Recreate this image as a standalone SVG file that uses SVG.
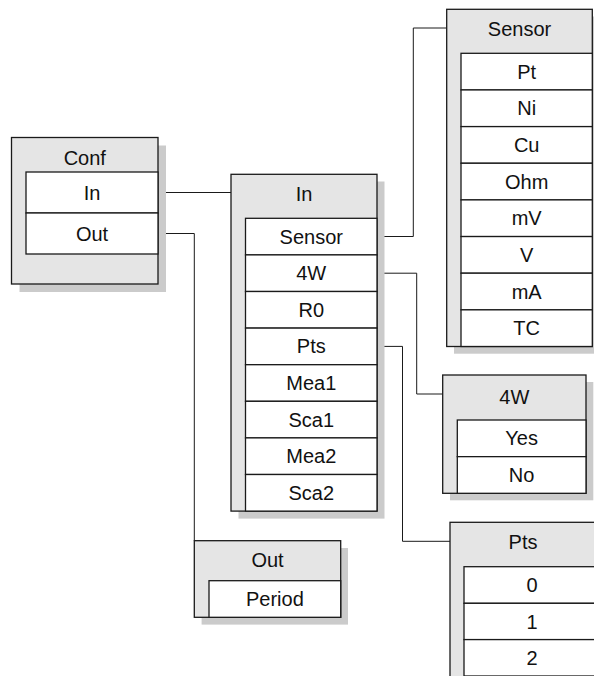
<svg xmlns="http://www.w3.org/2000/svg" width="594" height="676" viewBox="0 0 594 676">
<style>
  .sh { fill: #cbcbcb; stroke: none; }
  .box { fill: #e5e5e5; stroke: #1a1a1a; stroke-width: 1.3; }
  .row { fill: #ffffff; stroke: #1a1a1a; stroke-width: 1.3; }
  .t { font-family: "Liberation Sans", Arial, sans-serif; font-size: 20px; fill: #111111; text-anchor: middle; }
  .c { fill: none; stroke: #1a1a1a; stroke-width: 1; }
</style>
<rect width="594" height="676" fill="#ffffff"/>
<g id="connectors">
  <path class="c" d="M158,192.5 H231"/>
  <path class="c" d="M158,233.5 H194.3 V540.7"/>
  <path class="c" d="M377,236.5 H413.3 V28 H446.7"/>
  <path class="c" d="M377,273.2 H416.7 V394 H442.7"/>
  <path class="c" d="M377,346.4 H402.5 V541.3 H450"/>
</g>
<g id="conf">
  <rect class="sh" x="19.5" y="145.5" width="146.5" height="146.5"/>
  <rect class="box" x="11.5" y="137.5" width="146.5" height="146.5"/>
  <text class="t" x="84.75" y="164.5">Conf</text>
  <rect class="row" x="26" y="172" width="132" height="41"/>
  <text class="t" x="92" y="199.5">In</text>
  <rect class="row" x="26" y="213" width="132" height="41"/>
  <text class="t" x="92" y="240.5">Out</text>
</g>
<g id="in">
  <rect class="sh" x="238.5" y="181.5" width="146" height="337.1"/>
  <rect class="box" x="231" y="174.3" width="146" height="336.8"/>
  <text class="t" x="304" y="201">In</text>
  <rect class="row" x="245.5" y="218.3" width="131.5" height="36.6"/>
  <text class="t" x="311.25" y="243.6">Sensor</text>
  <rect class="row" x="245.5" y="254.9" width="131.5" height="36.6"/>
  <text class="t" x="311.25" y="280.2">4W</text>
  <rect class="row" x="245.5" y="291.5" width="131.5" height="36.6"/>
  <text class="t" x="311.25" y="316.8">R0</text>
  <rect class="row" x="245.5" y="328.1" width="131.5" height="36.6"/>
  <text class="t" x="311.25" y="353.4">Pts</text>
  <rect class="row" x="245.5" y="364.7" width="131.5" height="36.6"/>
  <text class="t" x="311.25" y="390">Mea1</text>
  <rect class="row" x="245.5" y="401.3" width="131.5" height="36.6"/>
  <text class="t" x="311.25" y="426.6">Sca1</text>
  <rect class="row" x="245.5" y="437.9" width="131.5" height="36.6"/>
  <text class="t" x="311.25" y="463.2">Mea2</text>
  <rect class="row" x="245.5" y="474.5" width="131.5" height="36.6"/>
  <text class="t" x="311.25" y="499.8">Sca2</text>
</g>
<g id="sensor">
  <rect class="sh" x="454" y="16.5" width="146" height="337.2"/>
  <rect class="box" x="446.7" y="9.3" width="145.6" height="337.2"/>
  <text class="t" x="519.5" y="36">Sensor</text>
  <rect class="row" x="461" y="53.3" width="131.3" height="36.65"/>
  <text class="t" x="526.7" y="78.6">Pt</text>
  <rect class="row" x="461" y="89.95" width="131.3" height="36.65"/>
  <text class="t" x="526.7" y="115.3">Ni</text>
  <rect class="row" x="461" y="126.6" width="131.3" height="36.65"/>
  <text class="t" x="526.7" y="151.9">Cu</text>
  <rect class="row" x="461" y="163.25" width="131.3" height="36.65"/>
  <text class="t" x="526.7" y="188.6">Ohm</text>
  <rect class="row" x="461" y="199.9" width="131.3" height="36.65"/>
  <text class="t" x="526.7" y="225.2">mV</text>
  <rect class="row" x="461" y="236.55" width="131.3" height="36.65"/>
  <text class="t" x="526.7" y="261.9">V</text>
  <rect class="row" x="461" y="273.2" width="131.3" height="36.65"/>
  <text class="t" x="526.7" y="298.5">mA</text>
  <rect class="row" x="461" y="309.85" width="131.3" height="36.65"/>
  <text class="t" x="526.7" y="335.2">TC</text>
</g>
<g id="fourw">
  <rect class="sh" x="450" y="382" width="143.3" height="118.3"/>
  <rect class="box" x="442.7" y="375" width="143.3" height="118.3"/>
  <text class="t" x="514.35" y="403.5">4W</text>
  <rect class="row" x="457.3" y="420" width="128.7" height="36.65"/>
  <text class="t" x="521.65" y="445.3">Yes</text>
  <rect class="row" x="457.3" y="456.65" width="128.7" height="36.65"/>
  <text class="t" x="521.65" y="482">No</text>
</g>
<g id="out">
  <rect class="sh" x="201.6" y="548" width="146.4" height="76.6"/>
  <rect class="box" x="194.3" y="540.7" width="146.4" height="76.6"/>
  <text class="t" x="267.5" y="567.2">Out</text>
  <rect class="row" x="209" y="580.7" width="131.7" height="36.6"/>
  <text class="t" x="274.85" y="606">Period</text>
</g>
<g id="pts">
  <rect class="box" x="450" y="522.3" width="146" height="160"/>
  <text class="t" x="523" y="549.3">Pts</text>
  <rect class="row" x="464" y="566.7" width="132" height="36.6"/>
  <text class="t" x="532" y="592">0</text>
  <rect class="row" x="464" y="603.3" width="132" height="36.3"/>
  <text class="t" x="532" y="628.5">1</text>
  <rect class="row" x="464" y="639.6" width="132" height="36.4"/>
  <text class="t" x="532" y="665">2</text>
</g>
</svg>
